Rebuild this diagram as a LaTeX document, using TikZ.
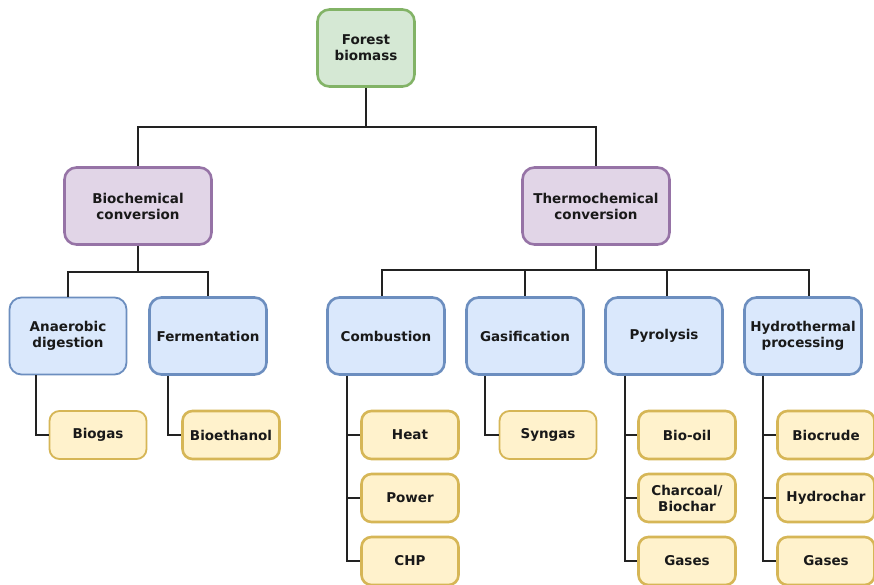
\documentclass[tikz,border=0pt]{standalone}
\usepackage{fontspec}
\setmainfont{DejaVu Sans}
\usetikzlibrary{calc}

\definecolor{feedfill}{HTML}{D5E8D4}
\definecolor{feedline}{HTML}{82B366}
\definecolor{routefill}{HTML}{E1D5E7}
\definecolor{routeline}{HTML}{9673A6}
\definecolor{procfill}{HTML}{DAE8FC}
\definecolor{procline}{HTML}{6C8EBF}
\definecolor{prodfill}{HTML}{FFF2CC}
\definecolor{prodline}{HTML}{D6B656}
\definecolor{linkgray}{HTML}{222222}

\tikzset{
  box/.style={rectangle, rounded corners=12pt, line width=2.6pt, align=center,
    inner sep=2pt, text=black!90,
    font=\bfseries\fontsize{13.5}{16}\selectfont},
  feed/.style={box, fill=feedfill, draw=feedline,
    minimum width=97pt, minimum height=77pt},
  route/.style={box, fill=routefill, draw=routeline,
    minimum width=147pt, minimum height=77pt},
  proc/.style={box, fill=procfill, draw=procline,
    minimum width=117pt, minimum height=77pt},
  prod/.style={box, fill=prodfill, draw=prodline, rounded corners=10pt,
    minimum width=97pt, minimum height=48pt},
  thinbox/.style={line width=1.8pt},
  link/.style={draw=linkgray, line width=1.9pt}
}

\begin{document}
\begin{tikzpicture}[x=1pt,y=-1pt]
  \useasboundingbox[fill=white] (0,0) rectangle (874,585);

  % feedstock and conversion routes
  \node[feed]  (fb) at (366,48)  {Forest\\biomass};
  \node[route] (bc) at (138,206) {Biochemical\\conversion};
  \node[route] (tc) at (596,206) {Thermochemical\\conversion};

  % processes
  \node[proc,thinbox] (ad) at (68,336)  {Anaerobic\\digestion};
  \node[proc] (fe) at (208,336) {Fermentation};
  \node[proc] (co) at (386,336) {Combustion};
  \node[proc] (ga) at (525,336) {Gasification};
  \node[proc] (py) at (664,336) {Pyrolysis};
  \node[proc] (hy) at (803,336) {Hydrothermal\\processing};

  % products
  \node[prod,thinbox] (bg) at (98,435)  {Biogas};
  \node[prod] (be) at (231,435) {Bioethanol};
  \node[prod] (he) at (410,435) {Heat};
  \node[prod] (pw) at (410,498) {Power};
  \node[prod] (ch) at (410,561) {CHP};
  \node[prod,thinbox] (sg) at (548,435) {Syngas};
  \node[prod] (bo) at (687,435) {Bio-oil};
  \node[prod] (cc) at (687,498) {Charcoal/\\Biochar};
  \node[prod] (g1) at (687,561) {Gases};
  \node[prod] (bu) at (826,435) {Biocrude};
  \node[prod] (hc) at (826,498) {Hydrochar};
  \node[prod] (g2) at (826,561) {Gases};

  \begin{scope}[every path/.style={link}]
    % top level split
    \draw (fb.south) -- ++(0,39) -| (bc.north);
    \draw (fb.south) -- ++(0,39) -| (tc.north);

    % biochemical branch
    \draw (bc.south) -- ++(0,26) -| (ad.north);
    \draw (bc.south) -- ++(0,26) -| (fe.north);

    % thermochemical branch
    \draw (tc.south) -- ++(0,24) -| ([xshift=-4pt]co.north);
    \draw (tc.south) -- ++(0,24) -| (ga.north);
    \draw (tc.south) -- ++(0,24) -| ([xshift=3pt]py.north);
    \draw (tc.south) -- ++(0,24) -| ([xshift=6pt]hy.north);

    % products hanging off each process
    \draw ([xshift=27pt]ad.south west) |- (bg.west);
    \draw ([xshift=20pt]fe.south west) |- (be.west);
    \foreach \q in {he,pw,ch}
      \draw ([xshift=21pt]co.south west) |- (\q.west);
    \draw ([xshift=20pt]ga.south west) |- (sg.west);
    \foreach \q in {bo,cc,g1}
      \draw ([xshift=21pt]py.south west) |- (\q.west);
    \foreach \q in {bu,hc,g2}
      \draw ([xshift=20pt]hy.south west) |- (\q.west);
  \end{scope}

\end{tikzpicture}
\end{document}
